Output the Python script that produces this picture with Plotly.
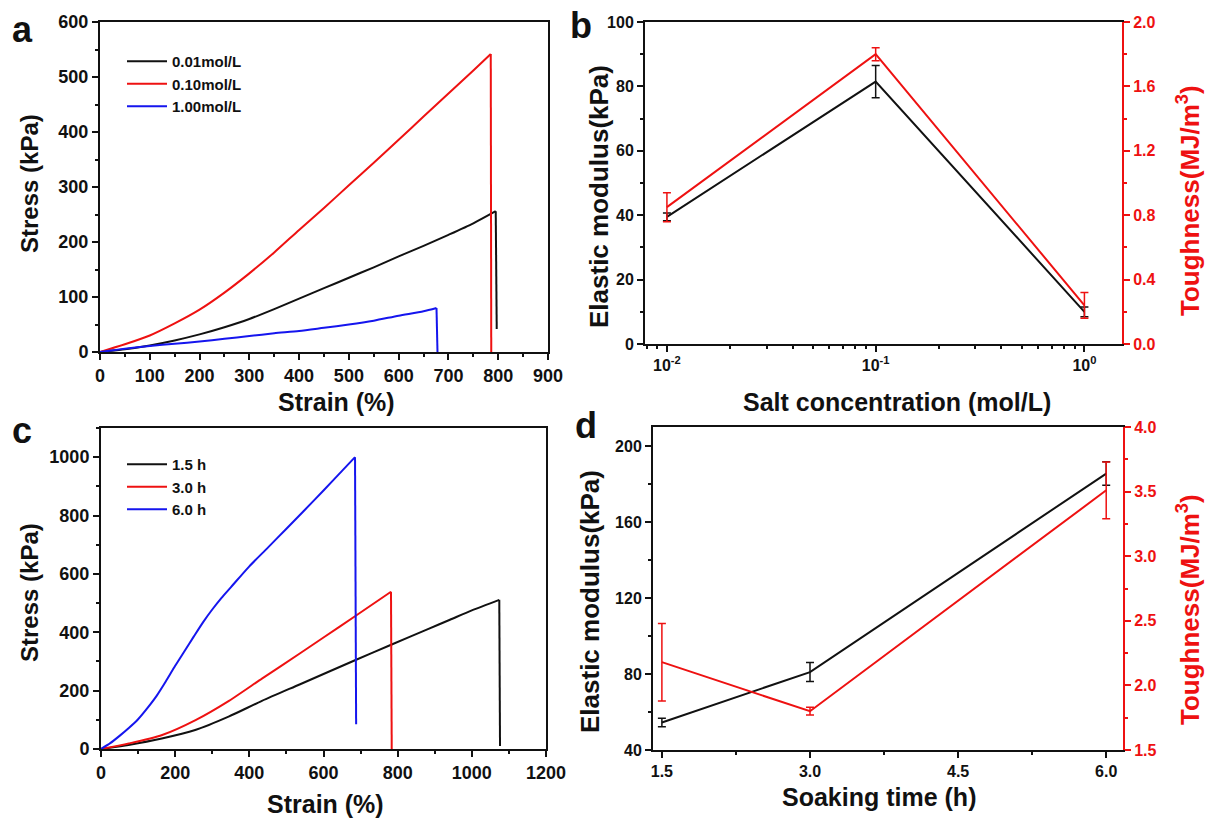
import plotly.graph_objects as go

# ---------------- data ----------------
# panel a: stress-strain curves for different salt concentrations
strain_a_001 = [0, 50, 100, 150, 200, 250, 300, 350, 400, 450, 500, 550, 600, 650, 700, 750, 795, 797]
stress_a_001 = [0, 5, 12, 21, 32, 45, 60, 78, 97, 116, 135, 154, 174, 193, 213, 234, 256, 42]
strain_a_010 = [0, 50, 100, 150, 200, 250, 300, 350, 400, 450, 500, 550, 600, 650, 700, 750, 785, 786]
stress_a_010 = [0, 14, 30, 52, 77, 108, 143, 181, 222, 262, 303, 344, 386, 428, 470, 512, 542, 0]
strain_a_100 = [0, 50, 100, 150, 200, 250, 300, 350, 400, 450, 500, 550, 600, 650, 676, 678]
stress_a_100 = [0, 6, 11, 15, 19, 24, 29, 34, 38, 44, 50, 57, 66, 74, 80, 0]
labels_a = ["0.01mol/L", "0.10mol/L", "1.00mol/L"]

# panel b: modulus / toughness vs salt concentration
conc = [0.01, 0.1, 1.0]
modulus_b = [39.5, 81.5, 10.0]
modulus_b_err = [1.2, 5.0, 1.5]
tough_b = [0.85, 1.80, 0.24]
tough_b_err = [0.09, 0.04, 0.08]

# panel c: stress-strain curves for different soaking times
strain_c_15 = [0, 74, 164, 254, 344, 434, 537, 685, 784, 880, 941, 1000, 1074, 1076]
stress_c_15 = [0, 14, 36, 65, 111, 165, 222, 304, 358, 410, 443, 475, 511, 10]
strain_c_30 = [0, 75, 165, 255, 345, 435, 537, 600, 685, 782, 784]
stress_c_30 = [0, 19, 48, 99, 165, 242, 328, 382, 455, 539, 0]
strain_c_60 = [0, 25, 50, 75, 100, 125, 150, 175, 200, 225, 250, 275, 300, 325, 350, 400, 450, 500,
               550, 600, 650, 685, 688]
stress_c_60 = [0, 20, 45, 72, 102, 140, 182, 232, 285, 335, 385, 434, 478, 518, 554, 626, 690, 755,
               820, 886, 953, 1000, 85]
labels_c = ["1.5 h", "3.0 h", "6.0 h"]

# panel d: modulus / toughness vs soaking time
soak = [1.5, 3.0, 6.0]
modulus_d = [54.5, 81.0, 185.5]
modulus_d_err = [2.2, 5.0, 6.2]
tough_d = [2.18, 1.80, 3.51]
tough_d_err = [0.30, 0.03, 0.22]

# ---------------- styling ----------------
W, H = 1205, 819
FONT = "Liberation Sans, Arial, sans-serif"
BLACK, RED, BLUE = "#111111", "#ee1111", "#1515ee"
LW = 2


def px_x(p):
    return p / W


def px_y(p):
    return 1 - p / H


tf_big = dict(family=FONT, size=18, color=BLACK, weight="bold")
tf_small = dict(family=FONT, size=16, color=BLACK, weight="bold")
tf_red = dict(family=FONT, size=16, color=RED, weight="bold")

fig = go.Figure()


def curve(xs, ys, c, name, xa, ya, lg):
    # smooth loading part (through the measured points) + straight fracture drop
    fig.add_trace(go.Scatter(x=xs[:-1], y=ys[:-1], mode="lines", name=name,
                             line=dict(color=c, width=LW, shape="spline", smoothing=0.7),
                             xaxis=xa, yaxis=ya, legend=lg, legendgroup=name + xa))
    fig.add_trace(go.Scatter(x=xs[-2:], y=ys[-2:], mode="lines", name=name, showlegend=False,
                             line=dict(color=c, width=LW), xaxis=xa, yaxis=ya,
                             legend=lg, legendgroup=name + xa))


# panel a
for xs, ys, c, name in [(strain_a_001, stress_a_001, BLACK, labels_a[0]),
                        (strain_a_010, stress_a_010, RED, labels_a[1]),
                        (strain_a_100, stress_a_100, BLUE, labels_a[2])]:
    curve(xs, ys, c, name, "x", "y", "legend")

# panel b
fig.add_trace(go.Scatter(x=conc, y=modulus_b, mode="lines", showlegend=False,
                         line=dict(color=BLACK, width=LW),
                         error_y=dict(type="data", array=modulus_b_err, color=BLACK, thickness=1.5, width=4),
                         xaxis="x2", yaxis="y2"))
fig.add_trace(go.Scatter(x=conc, y=tough_b, mode="lines", showlegend=False,
                         line=dict(color=RED, width=LW),
                         error_y=dict(type="data", array=tough_b_err, color=RED, thickness=1.5, width=4),
                         xaxis="x2", yaxis="y3"))

# panel c
for xs, ys, c, name in [(strain_c_15, stress_c_15, BLACK, labels_c[0]),
                        (strain_c_30, stress_c_30, RED, labels_c[1]),
                        (strain_c_60, stress_c_60, BLUE, labels_c[2])]:
    curve(xs, ys, c, name, "x3", "y4", "legend2")

# panel d
fig.add_trace(go.Scatter(x=soak, y=modulus_d, mode="lines", showlegend=False,
                         line=dict(color=BLACK, width=LW),
                         error_y=dict(type="data", array=modulus_d_err, color=BLACK, thickness=1.5, width=4),
                         xaxis="x4", yaxis="y5"))
fig.add_trace(go.Scatter(x=soak, y=tough_d, mode="lines", showlegend=False,
                         line=dict(color=RED, width=LW),
                         error_y=dict(type="data", array=tough_d_err, color=RED, thickness=1.5, width=4),
                         xaxis="x4", yaxis="y6"))


def axis(domain, rng, dtick=None, minor_dtick=None, anchor=None, mirror=True, color=BLACK, font=None,
         **kw):
    d = dict(domain=domain, range=rng, showgrid=False, zeroline=False, showline=True,
             linecolor=color, linewidth=2, ticks="outside", ticklen=6, tickwidth=2, tickcolor=color,
             tickfont=font or tf_small, mirror=mirror, anchor=anchor, automargin=False)
    if dtick is not None:
        d["dtick"] = dtick
    if minor_dtick is not None:
        d["minor"] = dict(ticks="outside", ticklen=3, tickwidth=1.5, tickcolor=color, dtick=minor_dtick,
                          showgrid=False)
    d.update(kw)
    return d


dom_a_x = [px_x(100), px_x(548)]
dom_a_y = [px_y(352), px_y(22)]
dom_b_x = [px_x(645), px_x(1122)]
dom_b_y = [px_y(344), px_y(22)]
dom_c_x = [px_x(101), px_x(546)]
dom_c_y = [px_y(749), px_y(428)]
dom_d_x = [px_x(653), px_x(1123)]
dom_d_y = [px_y(750), px_y(427)]

minor_log = [m * 10 ** e for e in (-3, -2, -1, 0) for m in range(2, 10)]

layout = dict(
    width=W, height=H, autosize=False,
    margin=dict(l=0, r=0, t=0, b=0, autoexpand=False),
    paper_bgcolor="white", plot_bgcolor="white",
    font=dict(family=FONT, color=BLACK),
    xaxis=axis(dom_a_x, [0, 900], dtick=100, minor_dtick=50, anchor="y", tick0=0, tickfont=tf_big),
    yaxis=axis(dom_a_y, [0, 600], dtick=100, minor_dtick=50, anchor="x", tick0=0, tickfont=tf_big),
    xaxis2=axis(dom_b_x, [-2.105, 0.18], anchor="y2", type="log",
                tickmode="array", tickvals=conc,
                ticktext=["10<sup>-2</sup>", "10<sup>-1</sup>", "10<sup>0</sup>"],
                minor=dict(ticks="outside", ticklen=3, tickwidth=1.5, tickcolor=BLACK,
                           tickmode="array", tickvals=minor_log)),
    yaxis2=axis(dom_b_y, [0, 100], dtick=20, minor_dtick=10, anchor="x2", mirror=False),
    yaxis3=axis(dom_b_y, [0, 2.0], dtick=0.4, minor_dtick=0.2, anchor="x2", overlaying="y2",
                side="right", mirror=False, color=RED, font=tf_red, tickformat=".1f"),
    xaxis3=axis(dom_c_x, [0, 1200], dtick=200, minor_dtick=100, anchor="y4", tick0=0, tickfont=tf_big),
    yaxis4=axis(dom_c_y, [0, 1100], dtick=200, minor_dtick=100, anchor="x3", tick0=0, tickfont=tf_big),
    xaxis4=axis(dom_d_x, [1.41, 6.17], dtick=1.5, minor_dtick=0.75, anchor="y5", tick0=1.5,
                tickformat=".1f"),
    yaxis5=axis(dom_d_y, [40, 210], dtick=40, minor_dtick=20, anchor="x4", tick0=40, mirror=False),
    yaxis6=axis(dom_d_y, [1.5, 4.0], dtick=0.5, minor_dtick=0.25, anchor="x4", overlaying="y5",
                side="right", mirror=False, color=RED, font=tf_red, tickformat=".1f", tick0=1.5),
    legend=dict(x=px_x(122), y=px_y(45), xanchor="left", yanchor="top", bgcolor="rgba(0,0,0,0)",
                font=dict(family=FONT, size=15, color=BLACK, weight="bold"), tracegroupgap=0,
                itemwidth=40),
    legend2=dict(x=px_x(122), y=px_y(448), xanchor="left", yanchor="top", bgcolor="rgba(0,0,0,0)",
                 font=dict(family=FONT, size=15, color=BLACK, weight="bold"), tracegroupgap=0,
                 itemwidth=40),
)
fig.update_layout(**layout)

ann = []


def text(t, x, y, size=25, color=BLACK, angle=0):
    ann.append(dict(text=t, x=px_x(x), y=px_y(y), xref="paper", yref="paper", showarrow=False,
                    xanchor="center", yanchor="middle", textangle=angle,
                    font=dict(family=FONT, size=size, color=color, weight="bold")))


# panel letters
text("a", 22, 30, size=36)
text("b", 581, 25, size=36)
text("c", 22, 430, size=36)
text("d", 586, 425, size=36)
# axis titles
text("Stress (kPa)", 30, 184, size=24, angle=-90)
text("Strain (%)", 336, 402)
text("Elastic modulus(kPa)", 599, 197, size=26, angle=-90)
text("Toughness(MJ/m<sup>3</sup>)", 1188, 201, size=26, color=RED, angle=-90)
text("Salt concentration (mol/L)", 897, 402)
text("Stress (kPa)", 29, 593, size=24, angle=-90)
text("Strain (%)", 325, 804)
text("Elastic modulus(kPa)", 590, 602, size=26, angle=-90)
text("Toughness(MJ/m<sup>3</sup>)", 1188, 610, size=26, color=RED, angle=-90)
text("Soaking time (h)", 879, 797)

fig.update_layout(annotations=ann)
fig.write_html("out.html", config={"displayModeBar": False},
               post_script="document.body.style.margin='0px';document.body.style.overflow='hidden';")
